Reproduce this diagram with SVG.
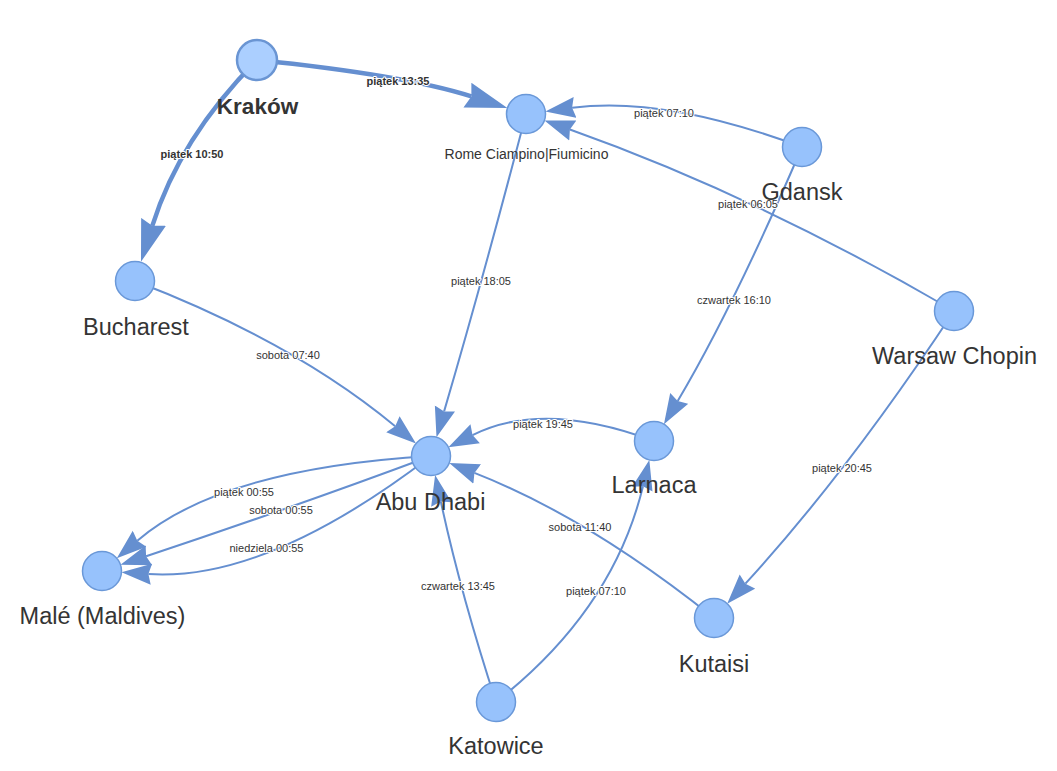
<svg xmlns="http://www.w3.org/2000/svg" width="1057" height="771" viewBox="0 0 1057 771">
<style>
.e{fill:none;stroke:#658fd0;stroke-width:2;marker-end:url(#a)}
.et{fill:none;stroke:#658fd0;stroke-width:4.5;marker-end:url(#at)}
.el{font-family:"Liberation Sans",Arial,sans-serif;font-size:11px;fill:#333;text-anchor:middle;stroke:#fff;stroke-width:2;paint-order:stroke;stroke-linejoin:round}
.elb{font-weight:bold}
.n{fill:#97c2fc;stroke:#6a98d8;stroke-width:1.5}
.nk{fill:#abcfff;stroke:#6a95d3;stroke-width:2.5}
.nl{font-family:"Liberation Sans",Arial,sans-serif;font-size:23.5px;fill:#343434;text-anchor:middle}
.nlk{font-weight:bold;font-size:22.5px}
.nls{font-size:14px}
</style>
<defs>
<marker id="a" markerUnits="userSpaceOnUse" viewBox="-30 -11 30 22" markerWidth="30" markerHeight="22" refX="-27" refY="0" orient="auto">
<path d="M0,0 L-30,10.5 L-27,0 L-30,-10.5 Z" fill="#658fd0"/>
</marker>
<marker id="at" markerUnits="userSpaceOnUse" viewBox="-42 -13 42 26" markerWidth="42" markerHeight="26" refX="-37.8" refY="0" orient="auto">
<path d="M0,0 L-42,13 L-37.8,0 L-42,-13 Z" fill="#658fd0"/>
</marker>
</defs>
<rect width="1057" height="771" fill="#fff"/>
<g id="connectors">
<path class="et" d="M257,60 Q404.5,75 471.4,96.4"/>
<path class="et" d="M257,60 Q180,137.5 152.3,225.8"/>
<path class="e" d="M526,114 Q483.5,277 444.1,411.4"/>
<path class="e" d="M802,147 Q664,95.5 572.1,107.8"/>
<path class="e" d="M954,311 Q756,195.5 569.9,129.5"/>
<path class="e" d="M802,147 Q734,306 677.7,401"/>
<path class="e" d="M135,281 Q293,341.5 395.2,426.2"/>
<path class="e" d="M654,441 Q543.5,399.5 472.5,435.1"/>
<path class="e" d="M714,618 Q587.5,517 474.4,472.9"/>
<path class="e" d="M496,702 Q460.5,593 440.8,501.5"/>
<path class="e" d="M496,702 Q613,610.5 643,486.2"/>
<path class="e" d="M954,311 Q848,471.5 745.4,583.7"/>
<path class="e" d="M431,456 Q221.5,468.5 137.3,540.7"/>
<path class="e" d="M431,456 Q295.5,506.5 146.1,556.3"/>
<path class="e" d="M431,456 Q266.5,581.9 148.4,574.1"/>
<text class="el elb" x="398" y="85">piątek 13:35</text>
<text class="el elb" x="192" y="158">piątek 10:50</text>
<text class="el" x="481" y="285">piątek 18:05</text>
<text class="el" x="664" y="117">piątek 07:10</text>
<text class="el" x="748" y="208">piątek 06:05</text>
<text class="el" x="734" y="304">czwartek 16:10</text>
<text class="el" x="288" y="359">sobota 07:40</text>
<text class="el" x="543" y="428">piątek 19:45</text>
<text class="el" x="580" y="531">sobota 11:40</text>
<text class="el" x="458" y="590">czwartek 13:45</text>
<text class="el" x="596" y="595">piątek 07:10</text>
<text class="el" x="842" y="472">piątek 20:45</text>
<text class="el" x="244" y="496">piątek 00:55</text>
<text class="el" x="281" y="514">sobota 00:55</text>
<text class="el" x="266.5" y="552">niedziela 00:55</text>
</g>
<g id="krakow"><circle class="nk" cx="257" cy="60" r="20"/><text class="nl nlk" x="257.5" y="114">Kraków</text></g>
<g id="rome"><circle class="n" cx="526" cy="114" r="19.5"/><text class="nl nls" x="526.5" y="159">Rome Ciampino|Fiumicino</text></g>
<g id="gdansk"><circle class="n" cx="802" cy="147" r="19.5"/><text class="nl" x="802" y="200">Gdansk</text></g>
<g id="bucharest"><circle class="n" cx="135" cy="281" r="19.5"/><text class="nl" x="136" y="335">Bucharest</text></g>
<g id="abudhabi"><circle class="n" cx="431" cy="456" r="19.5"/><text class="nl" x="430.5" y="510">Abu Dhabi</text></g>
<g id="male"><circle class="n" cx="102" cy="571" r="19.5"/><text class="nl" x="102.5" y="624">Malé (Maldives)</text></g>
<g id="larnaca"><circle class="n" cx="654" cy="441" r="19.5"/><text class="nl" x="654" y="493">Larnaca</text></g>
<g id="warsaw"><circle class="n" cx="954" cy="311" r="19.5"/><text class="nl" x="954.5" y="364">Warsaw Chopin</text></g>
<g id="kutaisi"><circle class="n" cx="714" cy="618" r="19.5"/><text class="nl" x="714" y="672">Kutaisi</text></g>
<g id="katowice"><circle class="n" cx="496" cy="702" r="19.5"/><text class="nl" x="496" y="754">Katowice</text></g>
</svg>
